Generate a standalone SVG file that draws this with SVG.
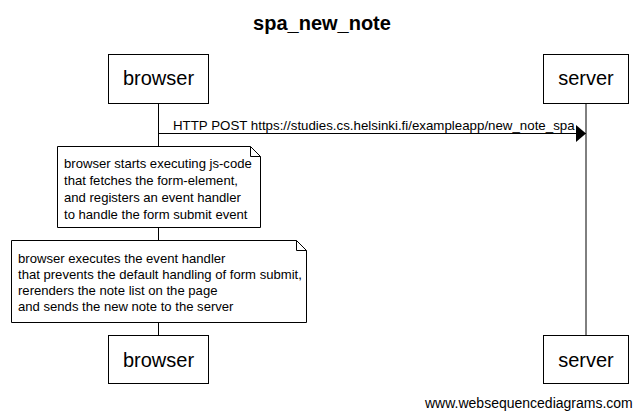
<svg xmlns="http://www.w3.org/2000/svg" width="644" height="418" viewBox="0 0 644 418">
<style>
.box{fill:#fff;stroke:#000;stroke-width:1}
.life{stroke:#000;stroke-width:1;fill:none}
.note{fill:#fff;stroke:#000;stroke-width:1}
.fold{fill:none;stroke:#000;stroke-width:1}
.pl{font-family:"Liberation Sans",Arial,sans-serif;font-size:20px;text-anchor:middle;fill:#000}
.t{font-family:"Liberation Sans",Arial,sans-serif;font-size:13.1px;fill:#000}
.lbl{font-family:"Liberation Sans",Arial,sans-serif;font-size:13.3px;fill:#000}
</style>
<defs>
<marker id="ah" markerWidth="10" markerHeight="17" refX="10" refY="8.5" orient="auto" markerUnits="userSpaceOnUse">
<path d="M0,0 L10,8.5 L0,17 Z" fill="#000"/>
</marker>
</defs>
<rect width="644" height="418" fill="#fff"/>
<text x="322" y="30" font-family="Liberation Sans,Arial,sans-serif" font-size="20" font-weight="bold" text-anchor="middle">spa_new_note</text>
<g id="connectors">
<line class="life" x1="158.5" y1="103" x2="158.5" y2="335"/>
<line class="life" x1="586" y1="103" x2="586" y2="335"/>
<line class="life" x1="158.5" y1="133.5" x2="586" y2="133.5" marker-end="url(#ah)"/>
<text class="lbl" x="173" y="130">HTTP POST https://studies.cs.helsinki.fi/exampleapp/new_note_spa</text>
</g>
<g id="browser-top">
<rect class="box" x="108.5" y="54.5" width="100" height="49"/>
<text class="pl" x="158.5" y="85">browser</text>
</g>
<g id="server-top">
<rect class="box" x="543.5" y="54.5" width="85" height="49"/>
<text class="pl" x="586" y="85">server</text>
</g>
<g id="note1">
<path class="note" d="M57.5,146.5 H250.5 L260.5,156.5 V227.5 H57.5 Z"/>
<path class="fold" d="M250.5,146.5 V156.5 H260.5"/>
<text class="t" x="64" y="168">browser starts executing js-code</text>
<text class="t" x="64" y="185">that fetches the form-element,</text>
<text class="t" x="64" y="202">and registers an event handler</text>
<text class="t" x="64" y="219">to handle the form submit event</text>
</g>
<g id="note2">
<path class="note" d="M11.5,240.5 H296.5 L306.5,250.5 V322.5 H11.5 Z"/>
<path class="fold" d="M296.5,240.5 V250.5 H306.5"/>
<text class="t" x="18" y="263">browser executes the event handler</text>
<text class="t" x="18" y="279">that prevents the default handling of form submit,</text>
<text class="t" x="18" y="295">rerenders the note list on the page</text>
<text class="t" x="18" y="311">and sends the new note to the server</text>
</g>
<g id="browser-bottom">
<rect class="box" x="108.5" y="335.5" width="100" height="48"/>
<text class="pl" x="158.5" y="367">browser</text>
</g>
<g id="server-bottom">
<rect class="box" x="543.5" y="335.5" width="85" height="48"/>
<text class="pl" x="586" y="367">server</text>
</g>
<text x="425" y="408" font-family="Liberation Sans,Arial,sans-serif" font-size="14" fill="#000">www.websequencediagrams.com</text>
</svg>
